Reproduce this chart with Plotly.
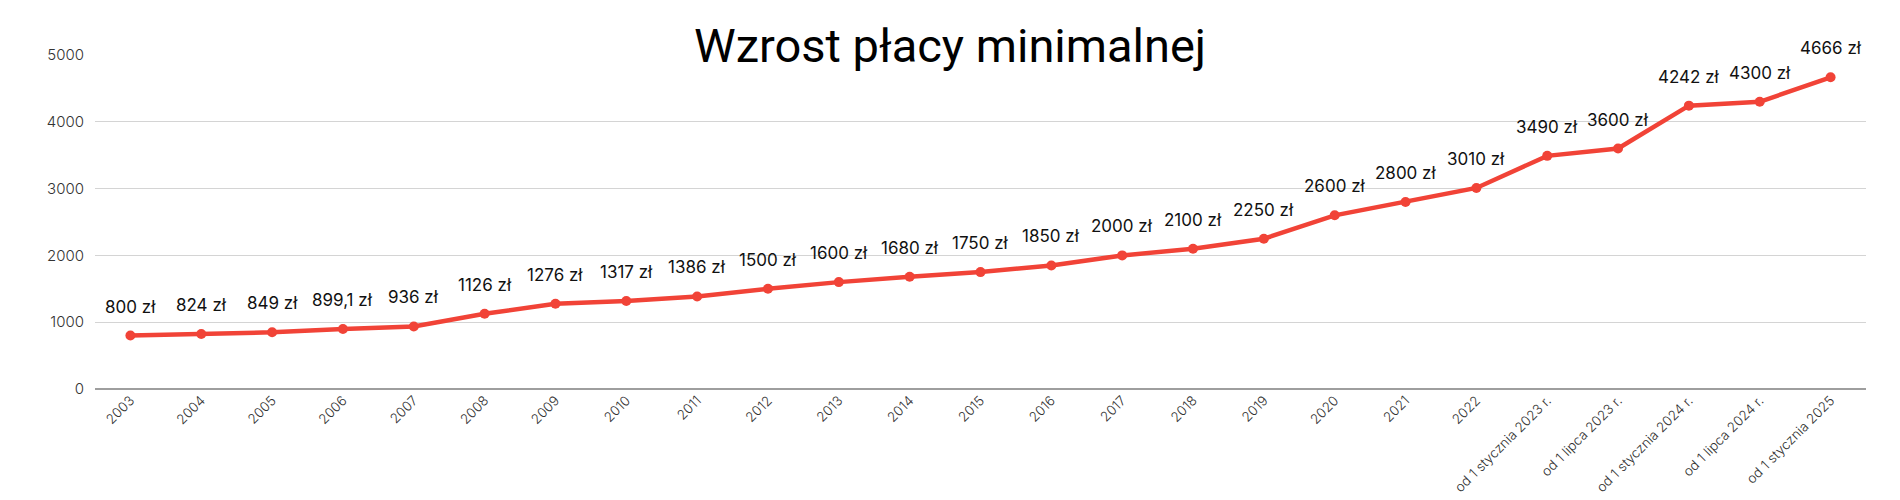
import plotly.graph_objects as go

categories = ["2003", "2004", "2005", "2006", "2007", "2008", "2009", "2010", "2011", "2012",
              "2013", "2014", "2015", "2016", "2017", "2018", "2019", "2020", "2021", "2022",
              "od 1 stycznia 2023 r.", "od 1 lipca 2023 r.", "od 1 stycznia 2024 r.",
              "od 1 lipca 2024 r.", "od 1 stycznia 2025"]
wages = [800, 824, 849, 899.1, 936, 1126, 1276, 1317, 1386, 1500,
         1600, 1680, 1750, 1850, 2000, 2100, 2250, 2600, 2800, 3010,
         3490, 3600, 4242, 4300, 4666]
wage_labels = ["800 zł", "824 zł", "849 zł", "899,1 zł", "936 zł", "1126 zł", "1276 zł",
               "1317 zł", "1386 zł", "1500 zł", "1600 zł", "1680 zł", "1750 zł", "1850 zł",
               "2000 zł", "2100 zł", "2250 zł", "2600 zł", "2800 zł", "3010 zł", "3490 zł",
               "3600 zł", "4242 zł", "4300 zł", "4666 zł"]
y_ticks = [0, 1000, 2000, 3000, 4000, 5000]
title_text = "Wzrost płacy minimalnej"

RED = "#f14337"

fig = go.Figure()
fig.add_trace(go.Scatter(
    x=categories, y=wages, mode="lines+markers",
    line=dict(color=RED, width=4.5),
    marker=dict(color=RED, size=10),
    cliponaxis=False,
    hoverinfo="skip",
))

annotations = []
for i, (v, t) in enumerate(zip(wages, wage_labels)):
    annotations.append(dict(
        x=i, y=v, xref="x", yref="y", text=t, showarrow=False,
        yanchor="bottom", xanchor="center", yshift=17,
        font=dict(family="Inter", size=17, color="#111111"),
    ))

annotations.append(dict(
    x=0.483, y=1, xref="paper", yref="paper", text=title_text, showarrow=False,
    xanchor="center", yanchor="middle", yshift=10,
    font=dict(family="Roboto, sans-serif", size=47, color="#000000"),
))

fig.update_layout(
    width=1900, height=500,
    margin=dict(l=87, r=42, t=47, b=119),
    paper_bgcolor="white", plot_bgcolor="white",
    showlegend=False,
    annotations=annotations,
    shapes=[dict(type="rect", xref="paper", yref="paper", x0=0.3072, x1=0.6618,
                 y0=0.96, y1=1.04, fillcolor="white", line=dict(width=0), layer="between")],
    xaxis=dict(
        type="category", tickangle=-45, showgrid=False, showline=False, ticks="",
        tickfont=dict(family="Inter", size=13.5, color="#333333", weight=300),
        range=[-0.5, len(categories) - 0.5], automargin=False,
    ),
    yaxis=dict(
        range=[0, 5000], tickvals=y_ticks, showgrid=True, gridcolor="#d4d4d4", gridwidth=1,
        zeroline=True, zerolinecolor="#9e9e9e", zerolinewidth=1.5,
        tickfont=dict(family="Inter", size=15, color="#333333", weight=300), ticks="",
        ticklabelstandoff=10, showline=False, automargin=False,
    ),
)

fig.write_html("out.html")
